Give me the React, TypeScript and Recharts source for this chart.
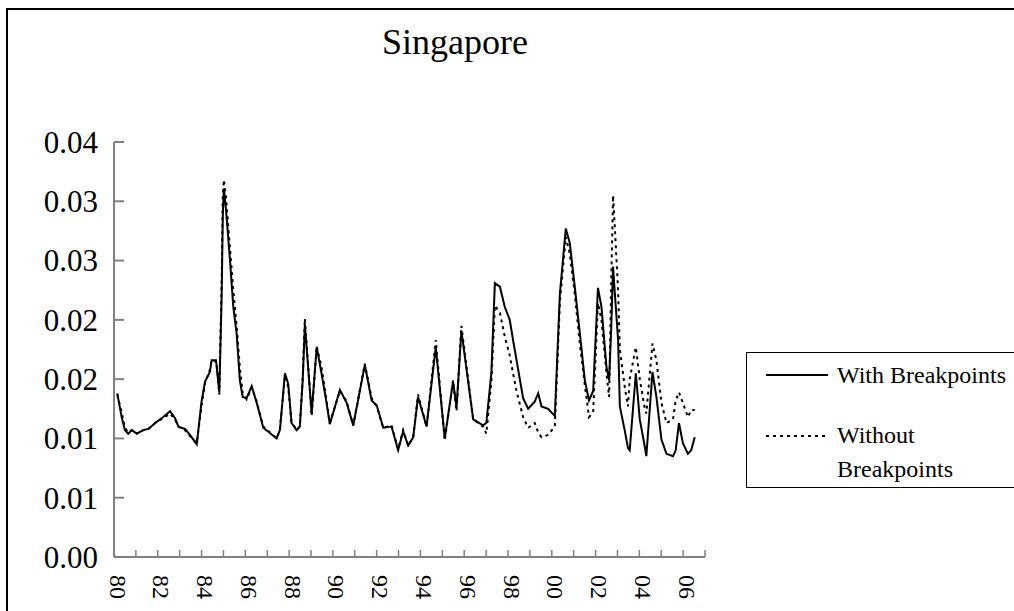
// Singapore: with vs without breakpoints (monthly series 1980-2006)
import { LineChart, Line, XAxis, YAxis } from 'recharts'

const FONT = '"Liberation Serif", "Times New Roman", serif'

// decimal years
const periods = [
  1980.15, 1980.35, 1980.5, 1980.65, 1980.81, 1981.04, 1981.34, 1981.57, 1981.95, 1982.25,
  1982.56, 1982.79, 1982.94, 1983.24, 1983.47, 1983.78, 1984.0, 1984.16, 1984.38, 1984.46,
  1984.66, 1984.72, 1984.81, 1984.92, 1984.97, 1985.02, 1985.12, 1985.3, 1985.45, 1985.6,
  1985.75, 1985.88, 1986.06, 1986.29, 1986.52, 1986.82, 1987.43, 1987.58, 1987.81, 1987.96,
  1988.11, 1988.34, 1988.49, 1988.62, 1988.72, 1989.03, 1989.26, 1989.48, 1989.71, 1989.86,
  1990.32, 1990.63, 1990.93, 1991.46, 1991.77, 1992.0, 1992.3, 1992.68, 1992.98, 1993.21,
  1993.44, 1993.67, 1993.89, 1994.28, 1994.7, 1995.11, 1995.49, 1995.65, 1995.87, 1996.41,
  1996.86, 1997.01, 1997.24, 1997.4, 1997.63, 1997.85, 1998.08, 1998.23, 1998.39, 1998.69,
  1998.92, 1999.22, 1999.38, 1999.53, 1999.83, 2000.14, 2000.37, 2000.64, 2000.82, 2001.05,
  2001.28, 2001.51, 2001.7, 2001.89, 2002.11, 2002.27, 2002.5, 2002.62, 2002.72, 2002.8,
  2002.86, 2003.03, 2003.11, 2003.33, 2003.48, 2003.56, 2003.84, 2004.02, 2004.25, 2004.32,
  2004.6, 2004.78, 2005.01, 2005.24, 2005.54, 2005.66, 2005.81, 2005.99, 2006.22, 2006.37,
  2006.53,
]

const withBreakpoints = [
  0.0138, 0.0118, 0.0107, 0.0104, 0.0107, 0.0104, 0.0107, 0.0108, 0.0114, 0.0118,
  0.0123, 0.0117, 0.011, 0.0108, 0.0103, 0.0095, 0.0131, 0.0148, 0.0156, 0.0166,
  0.0166, 0.0155, 0.0139, 0.0222, 0.0288, 0.0311, 0.0292, 0.025, 0.0211, 0.0189,
  0.0149, 0.0135, 0.0134, 0.0144, 0.013, 0.0109, 0.01, 0.0107, 0.0155, 0.0146,
  0.0113, 0.0107, 0.011, 0.0149, 0.0196, 0.0121, 0.0177, 0.0155, 0.013, 0.0112,
  0.0141, 0.013, 0.0111, 0.0162, 0.0132, 0.0128, 0.0109, 0.011, 0.009, 0.0106,
  0.0094, 0.0101, 0.0135, 0.011, 0.0177, 0.01, 0.0148, 0.0126, 0.0191, 0.0116,
  0.0111, 0.0113, 0.0155, 0.0231, 0.0228, 0.0211, 0.02, 0.0183, 0.0166, 0.0134,
  0.0125, 0.0131, 0.0138, 0.0127, 0.0125, 0.0119, 0.0222, 0.0277, 0.0265, 0.0228,
  0.0189, 0.0149, 0.0132, 0.014, 0.0227, 0.0211, 0.016, 0.0149, 0.0195, 0.0245,
  0.0228, 0.0183, 0.0127, 0.0107, 0.0092, 0.009, 0.0155, 0.0116, 0.0093, 0.0085,
  0.0156, 0.0135, 0.0099, 0.0087, 0.0085, 0.009, 0.0113, 0.0096, 0.0087, 0.009,
  0.0101,
]

const withoutBreakpoints = [
  0.0137, 0.0122, 0.0109, 0.0105, 0.0107, 0.0104, 0.0107, 0.0108, 0.0114, 0.0117,
  0.0121, 0.0116, 0.011, 0.0107, 0.0102, 0.0096, 0.0128, 0.0147, 0.0158, 0.0166,
  0.0165, 0.0158, 0.0137, 0.0232, 0.0305, 0.0318, 0.0303, 0.026, 0.0225, 0.0195,
  0.016, 0.0138, 0.0133, 0.0143, 0.0131, 0.011, 0.01, 0.0108, 0.0153, 0.0143,
  0.0114, 0.0107, 0.011, 0.015, 0.0201, 0.0119, 0.0178, 0.016, 0.0132, 0.0113,
  0.014, 0.0131, 0.0111, 0.0163, 0.0134, 0.0127, 0.0109, 0.0111, 0.0091, 0.0107,
  0.0094, 0.0101, 0.0137, 0.011, 0.0183, 0.0098, 0.0149, 0.0123, 0.0195, 0.0116,
  0.011, 0.0104, 0.0148, 0.0212, 0.0206, 0.0186, 0.017, 0.0155, 0.014, 0.0118,
  0.0109, 0.0113, 0.0105, 0.0101, 0.0103, 0.011, 0.0215, 0.027, 0.0256, 0.0222,
  0.018, 0.0145, 0.0118, 0.0122, 0.0214, 0.02, 0.0155, 0.0135, 0.0235, 0.0305,
  0.0285, 0.0225, 0.0175, 0.0144, 0.0127, 0.015, 0.0177, 0.015, 0.0125, 0.0121,
  0.018, 0.0166, 0.013, 0.0113, 0.0116, 0.0132, 0.0139, 0.013, 0.0118, 0.0124,
  0.0124,
]

const yearTicks = [
  1980, 1981, 1982, 1983, 1984, 1985, 1986, 1987, 1988, 1989, 1990, 1991, 1992, 1993,
  1994, 1995, 1996, 1997, 1998, 1999, 2000, 2001, 2002, 2003, 2004, 2005, 2006, 2007,
]
const yTicks = [0, 0.005, 0.01, 0.015, 0.02, 0.025, 0.03, 0.035]
const yTickLabels = ['0.00', '0.01', '0.01', '0.02', '0.02', '0.03', '0.03', '0.04']

const data = periods.map((t, i) => ({ t, withBP: withBreakpoints[i], withoutBP: withoutBreakpoints[i] }))

const AXIS = '#808080'

function YTick(props: any) {
  const { x, y, payload } = props
  const label = yTickLabels[yTicks.indexOf(payload.value)]
  return (
    <g>
      <line x1={x} x2={x + 10} y1={y} y2={y} stroke={AXIS} strokeWidth={2} />
      <text x={x - 16} y={y} dy="0.35em" textAnchor="end" fontSize={31} fontFamily={FONT} fill="#000">
        {label}
      </text>
    </g>
  )
}

function XTick(props: any) {
  const { x, y, payload } = props
  const yr = payload.value as number
  const showLabel = yr % 2 === 0 && yr < 2007
  const lx = x + 4
  const ly = y + 18
  return (
    <g>
      <line x1={x} x2={x} y1={y} y2={y - 7} stroke={AXIS} strokeWidth={1.5} />
      {showLabel && (
        <text
          x={lx}
          y={ly}
          dy="0.35em"
          transform={`rotate(90 ${lx} ${ly})`}
          fontSize={24}
          fontFamily={FONT}
          fill="#000"
        >
          {String(yr % 100).padStart(2, '0')}
        </text>
      )}
    </g>
  )
}

function LegendBox() {
  return (
    <svg width={300} height={137} style={{ display: 'block' }}>
      <rect x={0.5} y={0.5} width={299} height={135} fill="#fff" stroke="#000" strokeWidth={1} />
      <line x1={20} x2={82} y1={23} y2={23} stroke="#000" strokeWidth={2} />
      <text x={91} y={31} fontSize={24} fontFamily={FONT} fill="#000">With Breakpoints</text>
      <line x1={20} x2={82} y1={84} y2={84} stroke="#000" strokeWidth={2} strokeDasharray="3 4" />
      <text x={91} y={91} fontSize={24} fontFamily={FONT} fill="#000">Without</text>
      <text x={91} y={125} fontSize={24} fontFamily={FONT} fill="#000">Breakpoints</text>
    </svg>
  )
}

export default function App() {
  return (
    <div style={{ position: 'relative', width: 1014, height: 611, overflow: 'hidden', background: '#fff' }}>
      <style>{'body{margin:0}'}</style>
      <div
        style={{
          position: 'absolute', left: 6, top: 8, width: 1100, height: 700,
          borderLeft: '2px solid #000', borderTop: '2px solid #000',
        }}
      />
      <div
        style={{
          position: 'absolute', left: 0, top: 22, width: 910, textAlign: 'center',
          fontFamily: FONT, fontSize: 36, color: '#000', lineHeight: '40px',
        }}
      >
        Singapore
      </div>
      <div style={{ position: 'absolute', left: 0, top: 0 }}>
        <LineChart width={1014} height={611} data={data} margin={{ top: 142, right: 309, bottom: 0, left: 0 }}>
          <XAxis
            type="number"
            dataKey="t"
            domain={[1980, 2007]}
            ticks={yearTicks}
            interval={0}
            height={54}
            tickSize={0}
            tickMargin={0}
            tickLine={false}
            tick={<XTick />}
            axisLine={{ stroke: AXIS, strokeWidth: 2 }}
          />
          <YAxis
            type="number"
            domain={[0, 0.035]}
            ticks={yTicks}
            interval={0}
            width={114}
            tickSize={0}
            tickMargin={0}
            tickLine={false}
            tick={<YTick />}
            axisLine={{ stroke: AXIS, strokeWidth: 2 }}
          />
          <Line
            type="linear"
            dataKey="withoutBP"
            stroke="#000"
            strokeWidth={2}
            strokeDasharray="3 4"
            dot={false}
            isAnimationActive={false}
          />
          <Line
            type="linear"
            dataKey="withBP"
            stroke="#000"
            strokeWidth={2}
            dot={false}
            isAnimationActive={false}
          />
        </LineChart>
      </div>
      <div style={{ position: 'absolute', left: 746, top: 352 }}>
        <LegendBox />
      </div>
    </div>
  )
}
